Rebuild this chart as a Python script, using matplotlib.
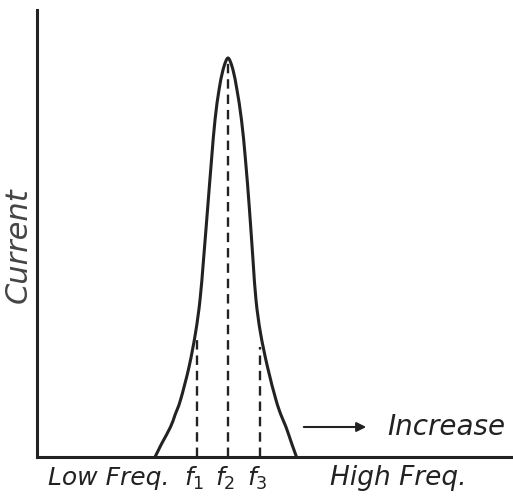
import matplotlib
matplotlib.use("Agg")
import matplotlib.pyplot as plt
from matplotlib.path import Path
from matplotlib.patches import PathPatch

# resonance curve (frequency, current), arbitrary units
freq = [118, 121.5, 125, 133.5, 138, 143.5, 152, 158.5, 163, 166.5, 170.5,
        174.5, 178, 182, 185.5, 188.5, 191,
        193.5, 196.5, 200, 204.5, 208.5, 212.5, 216, 219, 223.5, 230.5, 239,
        244, 249, 254.5, 257, 259.5]
current = [0, 7, 14, 30, 42, 57, 90, 124, 157, 197, 247,
           297, 337, 367, 385, 395, 399,
           395, 385, 367, 337, 297, 247, 197, 157, 124, 90, 57,
           42, 30, 14, 7, 0]

# dashed markers f1, f2, f3
f_pos = [160, 191, 223]
f_top = [122, 399, 110]
f_labels = [r'$f_1$', r'$f_2$', r'$f_3$']


def smooth_path(xs, ys):
    # catmull-rom through the points, drawn as cubic bezier segments
    pts = list(zip(xs, ys))
    ext = [pts[0]] + pts + [pts[-1]]
    verts = [pts[0]]
    codes = [Path.MOVETO]
    for i in range(1, len(ext) - 2):
        p0, p1, p2, p3 = ext[i - 1], ext[i], ext[i + 1], ext[i + 2]
        c1 = (p1[0] + (p2[0] - p0[0]) / 6, p1[1] + (p2[1] - p0[1]) / 6)
        c2 = (p2[0] - (p3[0] - p1[0]) / 6, p2[1] - (p3[1] - p1[1]) / 6)
        verts += [c1, c2, p2]
        codes += [Path.CURVE4] * 3
    return Path(verts, codes)


fig = plt.figure(figsize=(5.13, 4.98), dpi=100)
ax = fig.add_axes([37 / 513, 41 / 498, 476 / 513, 447 / 498])

ax.add_patch(PathPatch(smooth_path(freq, current), facecolor='none',
                       edgecolor='#222222', lw=2.2, joinstyle='round'))
for x, top in zip(f_pos, f_top):
    ax.plot([x, x], [0, top], color='#222222', lw=1.7, dashes=(4, 2.5))

ax.set_xlim(0, 476)
ax.set_ylim(0, 447)
ax.set_xticks([])
ax.set_yticks([])
for s in ['top', 'right']:
    ax.spines[s].set_visible(False)
for s in ['left', 'bottom']:
    ax.spines[s].set_linewidth(2.2)
    ax.spines[s].set_color('#222222')

# labels under the axis
ax.text(72, -21, 'Low Freq.', fontsize=18, style='italic', ha='center', va='center',
        color='#222222')
for x, lab in zip(f_pos, f_labels):
    ax.text(x - 3, -21, lab, fontsize=18, ha='center', va='center', color='#222222')
ax.text(361, -21, 'High Freq.', fontsize=19, style='italic', ha='center', va='center',
        color='#222222')

# "Increase" arrow
ax.annotate('', xy=(332, 30), xytext=(264, 30),
            arrowprops=dict(arrowstyle='-|>', color='#222222', lw=1.5,
                            mutation_scale=14))
ax.text(409, 30, 'Increase', fontsize=20, style='italic', ha='center', va='center',
        color='#222222')

ax.text(-19, 212, 'Current', fontsize=22, style='italic', rotation=90,
        ha='center', va='center', color='#444444')

fig.savefig('out.png', dpi=100)
